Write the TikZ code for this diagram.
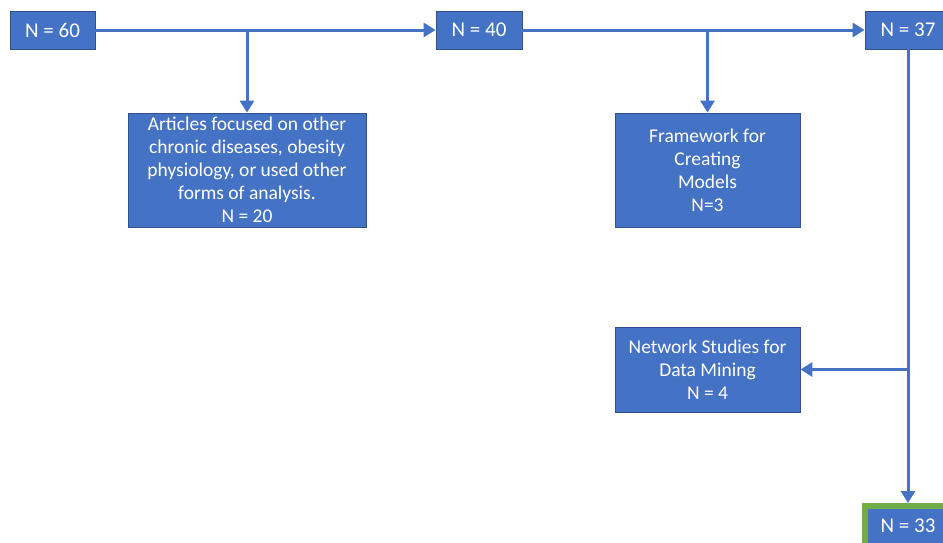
\documentclass[tikz,border=0pt]{standalone}
\usepackage{fontspec}
\setmainfont{Carlito}
\usetikzlibrary{arrows.meta}
\definecolor{boxblue}{HTML}{4472C4}
\definecolor{boxedge}{HTML}{2F528F}
\definecolor{boxgreen}{HTML}{70AD47}
\begin{document}
\begin{tikzpicture}[x=1pt, y=-1pt,
    box/.style={draw=boxedge, line width=0.8pt, fill=boxblue, text=white, align=center,
        inner sep=0pt, font=\fontsize{19.5}{23}\selectfont},
    count/.style={box, minimum width=86, minimum height=38, font=\fontsize{21}{25}\selectfont},
    link/.style={draw=boxblue, line width=3pt, -{Triangle[length=12pt, width=14pt]}}]
        \clip (0,0) rectangle (943,542);
        \useasboundingbox (0,0) rectangle (943,542);
        % counts along the top
        \node[count, minimum width=85] (n60) at (52.5,30) {N = 60};
        \node[count] (n40) at (479,30) {N = 40};
        \node[count] (n37) at (908,30) {N = 37};
        \node[count, draw=boxgreen, line width=6pt, minimum height=40] (n33) at (908,526) {N = 33};
        % excluded sets
        \node[box, minimum width=238, minimum height=114] (other) at (247,170)
            {Articles focused on other\\chronic diseases, obesity\\physiology, or used other\\forms of analysis.\\N = 20};
        \node[box, minimum width=185, minimum height=114] (frame) at (707.5,170)
            {Framework for\\Creating\\Models\\N=3};
        \node[box, minimum width=185, minimum height=85] (network) at (707.5,369.5)
            {Network Studies for\\Data Mining\\N = 4};
        % junctions on the lines
        \coordinate (j60) at (247,30);
        \coordinate (j40) at (707.5,30);
        \coordinate (j37) at (908,369.5);
        \draw[link] (n60) -- (n40);
        \draw[link] (n40) -- (n37);
        \draw[link] (n37) -- (n33);
        \draw[link] (j60) -- (other);
        \draw[link] (j40) -- (frame);
        \draw[link] (j37) -- (network);
    \end{tikzpicture}
\end{document}
